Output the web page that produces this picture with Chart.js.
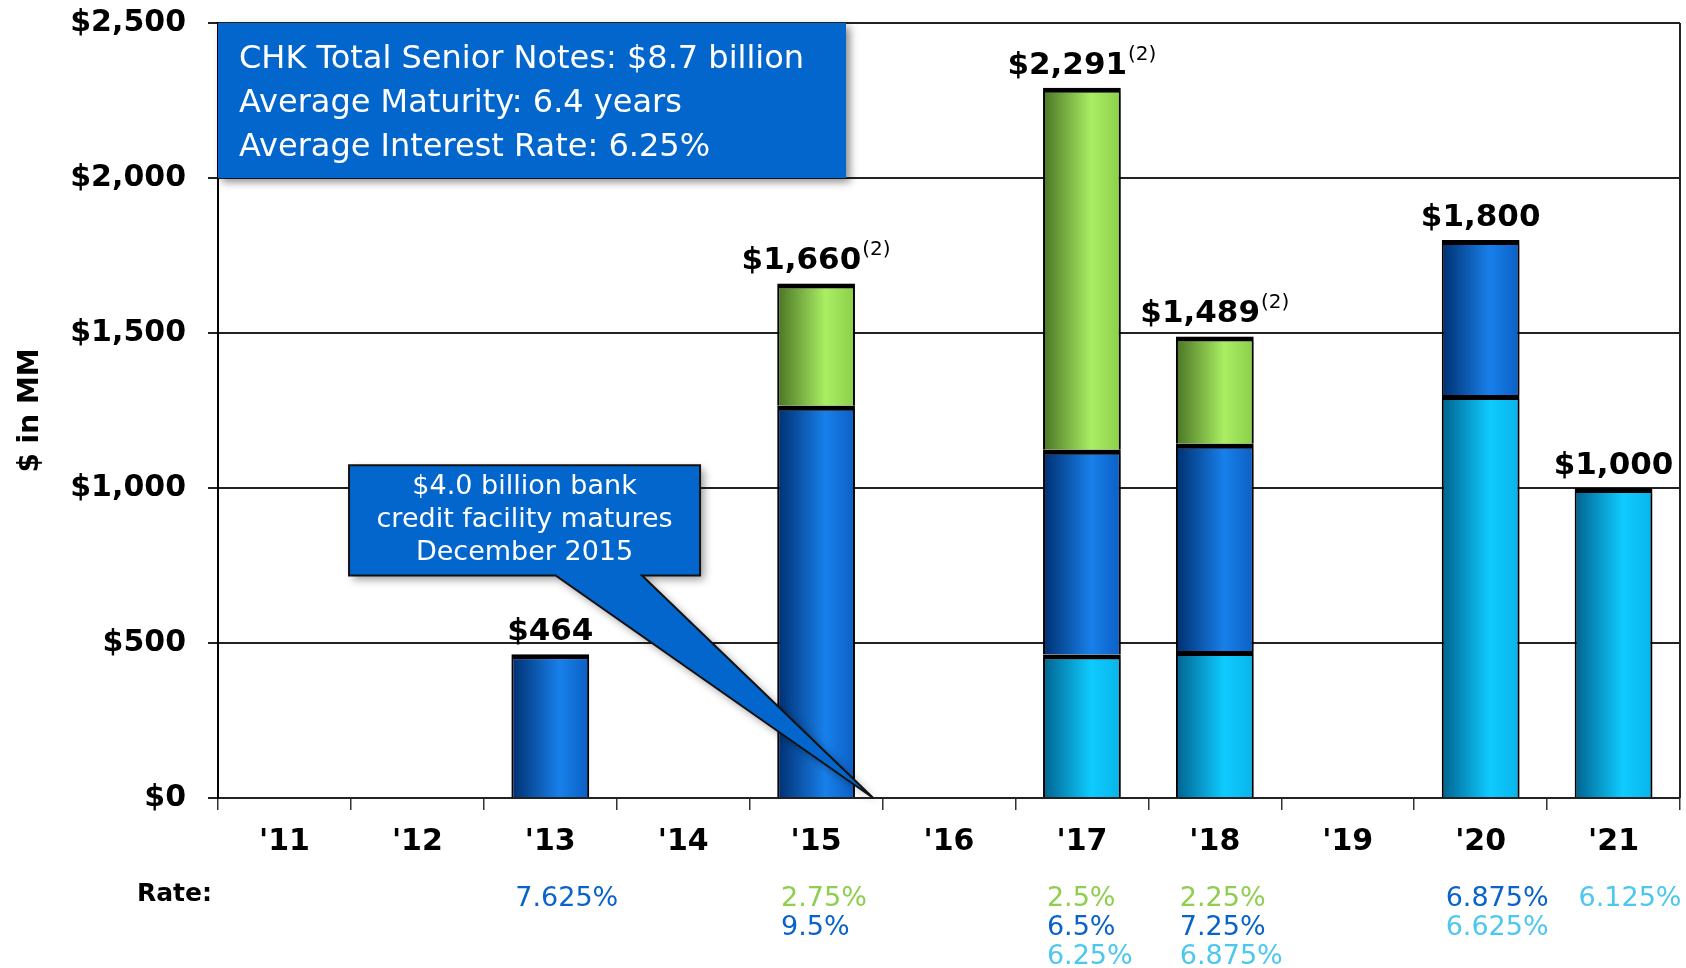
<!DOCTYPE html>
<html>
<head>
<meta charset="utf-8">
<script src="https://cdn.jsdelivr.net/npm/chart.js@4"></script>
<style>
  html, body { margin: 0; padding: 0; background: #fff; }
  #wrap { width: 1686px; height: 968px; }
</style>
</head>
<body>
<div id="wrap"><canvas id="notes-chart" width="1686" height="968"></canvas></div>
<script>
// years on the x axis
const years = ["'11", "'12", "'13", "'14", "'15", "'16", "'17", "'18", "'19", "'20", "'21"];

// $ MM per maturity year, bottom to top of each stack
const lightBlueNotes = [null, null, null, null, null, null, 463, 474, null, 1300, 1000];
const darkBlueNotes  = [null, null, 464, null, 1265, null, 660, 669, null, 500, null];
const greenNotes     = [null, null, null, null, 395, null, 1168, 346, null, null, null];

// coupon of each piece (top line = green, then dark blue, then light blue)
const greenRates     = ['', '', '', '', '2.75%', '', '2.5%', '2.25%', '', '', ''];
const darkBlueRates  = ['', '', '7.625%', '', '9.5%', '', '6.5%', '7.25%', '', '6.875%', ''];
const lightBlueRates = ['', '', '', '', '', '', '6.25%', '6.875%', '', '6.625%', '6.125%'];

// footnote mark after the total
const footnotes = ['', '', '', '', '(2)', '', '(2)', '(2)', '', '', ''];

const yTicks = [0, 500, 1000, 1500, 2000, 2500];

const summaryLines = [
    'CHK Total Senior Notes: $8.7 billion',
    'Average Maturity: 6.4 years',
    'Average Interest Rate: 6.25%'
];
const calloutLines = ['$4.0 billion bank', 'credit facility matures', 'December 2015'];

const FONT = '"DejaVu Sans", "Liberation Sans", sans-serif';
const BAR_PCT = 0.585;
const GREEN_TXT = '#8fce4f';
const BLUE_TXT = '#0a63c9';
const LIGHT_TXT = '#4cc8ee';

// horizontal gradient inside each bar
function barFill(stops) {
    return function (c) {
        const chart = c.chart;
        const xs = chart.scales && chart.scales.x;
        if (!chart.chartArea || !xs || c.type !== 'data') return stops[1];
        const cx = xs.getPixelForValue(c.dataIndex);
        const half = xs.width / years.length * BAR_PCT / 2;
        const g = chart.ctx.createLinearGradient(cx - half, 0, cx + half, 0);
        g.addColorStop(0, stops[0]);
        g.addColorStop(0.62, stops[1]);
        g.addColorStop(1, stops[2]);
        return g;
    };
}

function totalAt(i) {
    return (lightBlueNotes[i] || 0) + (darkBlueNotes[i] || 0) + (greenNotes[i] || 0);
}

const overlay = {
    id: 'overlay',
    beforeDraw(chart) {
        const ctx = chart.ctx;
        ctx.save();
        ctx.fillStyle = '#fff';
        ctx.fillRect(0, 0, chart.width, chart.height);
        ctx.restore();
    },
    beforeDatasetsDraw(chart) {
        const ctx = chart.ctx;
        ctx.save();
        ctx.shadowColor = 'rgba(0,0,0,0.35)';
        ctx.shadowBlur = 6;
        ctx.shadowOffsetX = 3;
        ctx.shadowOffsetY = 3;
    },
    afterDatasetsDraw(chart) {
        chart.ctx.restore();
        const ctx = chart.ctx;
        const xs = chart.scales.x, ys = chart.scales.y;
        const area = chart.chartArea;

        // right frame line
        ctx.save();
        ctx.strokeStyle = '#222';
        ctx.lineWidth = 2;
        ctx.beginPath();
        ctx.moveTo(area.right, area.top);
        ctx.lineTo(area.right, area.bottom);
        ctx.stroke();
        ctx.restore();

        // totals over the bars
        years.forEach((y, i) => {
            const t = totalAt(i);
            if (!t) return;
            const cx = xs.getPixelForValue(i);
            const base = ys.getPixelForValue(t) - 14;
            const main = '$' + t.toLocaleString('en-US');
            ctx.save();
            ctx.fillStyle = '#000';
            ctx.textBaseline = 'alphabetic';
            ctx.font = 'bold 31px ' + FONT;
            const wMain = ctx.measureText(main).width;
            ctx.font = '20px ' + FONT;
            const wSup = footnotes[i] ? ctx.measureText(footnotes[i]).width + 1 : 0;
            const x0 = cx - (wMain + wSup) / 2;
            ctx.font = 'bold 31px ' + FONT;
            ctx.fillText(main, x0, base);
            if (footnotes[i]) {
                ctx.font = '20px ' + FONT;
                ctx.fillText(footnotes[i], x0 + wMain + 1, base - 14);
            }
            ctx.restore();
        });

        // summary box in the top left corner
        const bx0 = area.left, bx1 = xs.getPixelForValue(4.225);
        const by0 = ys.getPixelForValue(2500), by1 = ys.getPixelForValue(2000);
        ctx.save();
        ctx.shadowColor = 'rgba(0,0,0,0.45)';
        ctx.shadowBlur = 8;
        ctx.shadowOffsetX = 4;
        ctx.shadowOffsetY = 4;
        ctx.fillStyle = '#0366cc';
        ctx.fillRect(bx0, by0, bx1 - bx0, by1 - by0);
        ctx.restore();
        ctx.save();
        ctx.fillStyle = '#fff';
        ctx.font = '32px ' + FONT;
        ctx.textBaseline = 'middle';
        summaryLines.forEach((s, k) => ctx.fillText(s, bx0 + 21, by0 + 37 + k * 44));
        ctx.restore();

        // callout pointing at the end of 2015
        const cx0 = xs.getPixelForValue(0.486), cx1 = xs.getPixelForValue(3.127);
        const cy0 = ys.getPixelForValue(1073), cy1 = ys.getPixelForValue(718);
        const p0 = xs.getPixelForValue(2.04), p1 = xs.getPixelForValue(2.69);
        const tipX = xs.getPixelForValue(4.43), tipY = ys.getPixelForValue(0);
        ctx.save();
        ctx.beginPath();
        ctx.moveTo(cx0, cy0);
        ctx.lineTo(cx1, cy0);
        ctx.lineTo(cx1, cy1);
        ctx.lineTo(p1, cy1);
        ctx.lineTo(tipX, tipY);
        ctx.lineTo(p0, cy1);
        ctx.lineTo(cx0, cy1);
        ctx.closePath();
        ctx.shadowColor = 'rgba(0,0,0,0.4)';
        ctx.shadowBlur = 8;
        ctx.shadowOffsetX = 4;
        ctx.shadowOffsetY = 4;
        ctx.fillStyle = '#0366cc';
        ctx.fill();
        ctx.shadowColor = 'transparent';
        ctx.strokeStyle = '#111';
        ctx.lineWidth = 2;
        ctx.lineJoin = 'miter';
        ctx.stroke();
        ctx.fillStyle = '#fff';
        ctx.font = '27px ' + FONT;
        ctx.textAlign = 'center';
        ctx.textBaseline = 'middle';
        calloutLines.forEach((s, k) => ctx.fillText(s, (cx0 + cx1) / 2, cy0 + 22 + k * 33));
        ctx.restore();

        // rate rows under the axis
        ctx.save();
        ctx.textBaseline = 'middle';
        ctx.fillStyle = '#000';
        ctx.font = 'bold 25px ' + FONT;
        ctx.fillText('Rate:', area.left - 81, area.bottom + 96);
        ctx.font = '27px ' + FONT;
        years.forEach((y, i) => {
            const rows = [];
            if (greenRates[i]) rows.push([greenRates[i], GREEN_TXT]);
            if (darkBlueRates[i]) rows.push([darkBlueRates[i], BLUE_TXT]);
            if (lightBlueRates[i]) rows.push([lightBlueRates[i], LIGHT_TXT]);
            const left = xs.getPixelForValue(i) - 35;
            rows.forEach((r, k) => {
                ctx.fillStyle = r[1];
                ctx.fillText(r[0], left, area.bottom + 101 + k * 29);
            });
        });
        ctx.restore();
    }
};

const ctx = document.getElementById('notes-chart').getContext('2d');
const notesChart = new Chart(ctx, {
    type: 'bar',
    data: {
        labels: years,
        datasets: [
            {
                label: 'Light blue notes',
                data: lightBlueNotes,
                backgroundColor: barFill(['#00628f', '#0fcbff', '#08b4ea'])
            },
            {
                label: 'Dark blue notes',
                data: darkBlueNotes,
                backgroundColor: barFill(['#002f70', '#1880ea', '#0b5fc4'])
            },
            {
                label: 'Green notes',
                data: greenNotes,
                backgroundColor: barFill(['#4a7424', '#a9ee63', '#8bcf4a'])
            }
        ]
    },
    options: {
        responsive: false,
        animation: false,
        events: [],
        layout: { padding: { top: 23, right: 6, bottom: 0, left: 0 } },
        datasets: {
            bar: {
                categoryPercentage: 1,
                barPercentage: BAR_PCT,
                borderColor: '#000',
                borderWidth: { top: 5, left: 2, right: 2, bottom: 0 },
                borderSkipped: false
            }
        },
        plugins: {
            legend: { display: false },
            tooltip: { enabled: false }
        },
        scales: {
            x: {
                stacked: true,
                offset: true,
                grid: {
                    display: true,
                    offset: true,
                    drawOnChartArea: false,
                    tickLength: 12,
                    color: '#333',
                    lineWidth: 1.5
                },
                border: { color: '#222', width: 2 },
                ticks: {
                    color: '#000',
                    font: { family: FONT, size: 30, weight: 'bold' },
                    padding: 14,
                    maxRotation: 0,
                    autoSkip: false
                },
                afterFit(scale) { scale.height = 170; }
            },
            y: {
                stacked: true,
                min: 0,
                max: 2500,
                afterBuildTicks(scale) { scale.ticks = yTicks.map(v => ({ value: v })); },
                grid: { color: '#222', lineWidth: 2, tickLength: 10 },
                border: { color: '#000', width: 2 },
                ticks: {
                    color: '#000',
                    font: { family: FONT, size: 30, weight: 'bold' },
                    padding: 22,
                    callback: v => '$' + v.toLocaleString('en-US')
                },
                title: {
                    display: true,
                    text: '$ in MM',
                    color: '#000',
                    font: { family: FONT, size: 28, weight: 'bold' },
                    padding: { top: 14, bottom: 0 }
                },
                afterFit(scale) {
                    scale.width = 218;
                    scale.paddingTop = 0;
                    scale.paddingBottom = 0;
                }
            }
        }
    },
    plugins: [overlay]
});
</script>
</body>
</html>
